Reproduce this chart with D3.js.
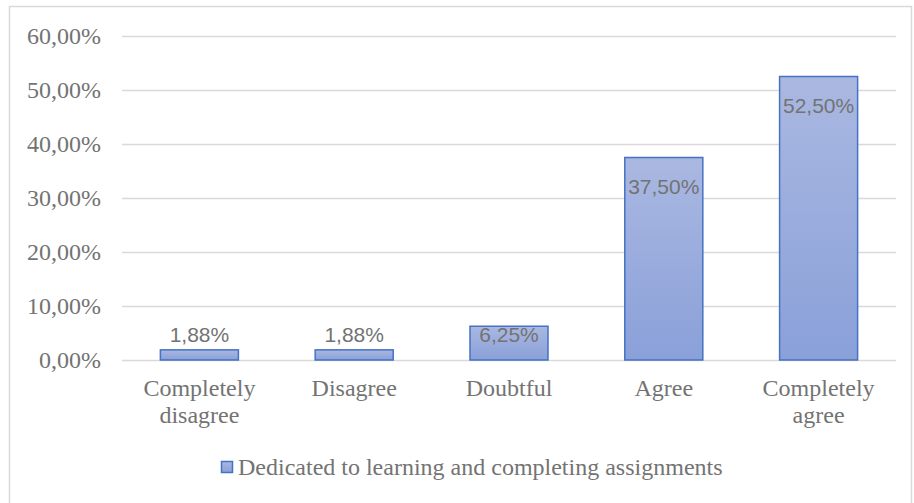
<!DOCTYPE html>
<html><head><meta charset="utf-8">
<script src="https://cdn.jsdelivr.net/npm/d3@7"></script>
<style>body{margin:0;background:#fff}</style>
</head><body>
<svg id="c" width="914" height="503"></svg>
<script>
const categories = [["Completely","disagree"],["Disagree"],["Doubtful"],["Agree"],["Completely","agree"]];
const values = [1.88, 1.88, 6.25, 37.50, 52.50];
const yTicks = [0,10,20,30,40,50,60];
const seriesName = "Dedicated to learning and completing assignments";

const svg = d3.select("#c");
svg.append("rect").attr("x",9.5).attr("y",6.5).attr("width",902).attr("height",500)
  .attr("fill","#fff").attr("stroke","#d9d9d9").attr("stroke-width",1.5);

const defs = svg.append("defs");
const g = defs.append("linearGradient").attr("id","bg").attr("x1",0).attr("y1",0).attr("x2",0).attr("y2",1);
g.append("stop").attr("offset","0%").attr("stop-color","#aab8e1");
g.append("stop").attr("offset","100%").attr("stop-color","#8aa0d9");

const x = d3.scaleBand().domain(d3.range(categories.length)).range([122,896]).paddingInner(0.496).paddingOuter(0.248);
const y = d3.scaleLinear().domain([0,60]).range([360,36]);

const fmt = v => d3.format(".2f")(v).replace(".",",")+"%";

svg.append("g").selectAll("line").data(yTicks).join("line")
  .attr("x1",122).attr("x2",896).attr("y1",d=>Math.round(y(d))+0.5).attr("y2",d=>Math.round(y(d))+0.5)
  .attr("stroke","#d9d9d9").attr("stroke-width",1.5);

svg.append("g").selectAll("text").data(yTicks).join("text")
  .attr("x",101).attr("y",d=>y(d)+8).attr("text-anchor","end")
  .attr("font-family","Liberation Serif").attr("font-size",24).attr("fill","#737373")
  .text(d=>fmt(d));

svg.append("g").selectAll("rect").data(values).join("rect")
  .attr("x",(d,i)=>x(i)).attr("width",x.bandwidth())
  .attr("y",d=>y(d)).attr("height",d=>y(0)-y(d))
  .attr("fill","url(#bg)").attr("stroke","#4472c4").attr("stroke-width",1.5);

svg.append("g").selectAll("text").data(values).join("text")
  .attr("x",(d,i)=>x(i)+x.bandwidth()/2)
  .attr("y",d=>Math.min(y(d)+36,342))
  .attr("text-anchor","middle").attr("font-family","Liberation Sans").attr("font-size",21)
  .attr("fill","#737373").text(d=>fmt(d));

const cl = svg.append("g").selectAll("text").data(categories).join("text")
  .attr("x",(d,i)=>x(i)+x.bandwidth()/2).attr("y",396)
  .attr("text-anchor","middle").attr("font-family","Liberation Serif").attr("font-size",24).attr("fill","#737373");
cl.selectAll("tspan").data(d=>d).join("tspan")
  .attr("x",function(){return this.parentNode.getAttribute("x");})
  .attr("dy",(d,i)=>i===0?0:27).text(d=>d);

svg.append("rect").attr("x",221.5).attr("y",461.5).attr("width",11).attr("height",11)
  .attr("fill","url(#bg)").attr("stroke","#4472c4").attr("stroke-width",1.5);
svg.append("text").attr("x",238).attr("y",475).attr("font-family","Liberation Serif").attr("font-size",24)
  .attr("fill","#737373").text(seriesName);
</script>
</body></html>
